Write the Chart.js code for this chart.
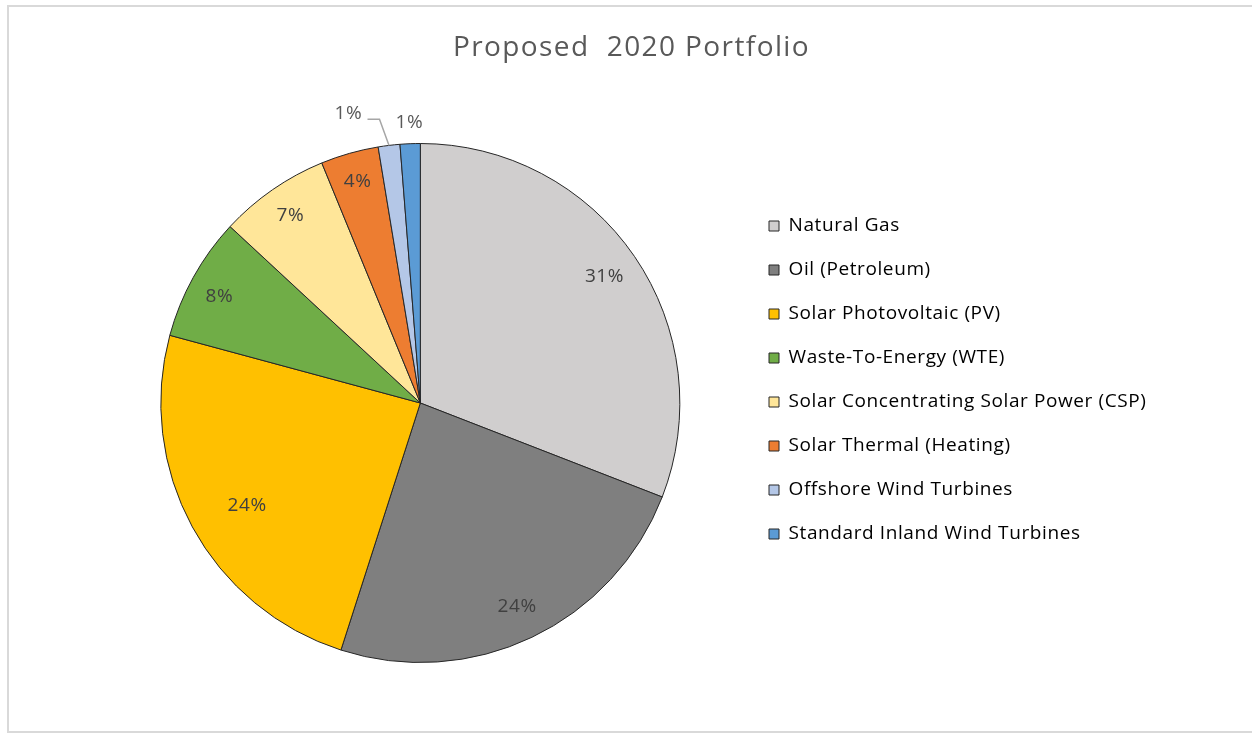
<!DOCTYPE html>
<html>
<head>
<meta charset="utf-8">
<script src="https://cdn.jsdelivr.net/npm/chart.js@4.4.0/dist/chart.umd.min.js"></script>
<style>
  html, body { margin: 0; padding: 0; background: #fff; }
  #wrap { position: relative; width: 1252px; height: 734px; }
  #frame { position: absolute; left: 7px; top: 5px; width: 1250px; height: 728px;
           border-left: 2px solid #d9d9d9; border-top: 2px solid #d9d9d9; border-bottom: 2px solid #d9d9d9; box-sizing: border-box; }
  canvas { position: absolute; left: 0; top: 0; }
</style>
</head>
<body>
<div id="wrap">
  <div id="frame"></div>
  <canvas id="c" width="1252" height="734"></canvas>
</div>
<script>
const titleText = 'Proposed  2020 Portfolio';
const categories = [
  'Natural Gas',
  'Oil (Petroleum)',
  'Solar Photovoltaic (PV)',
  'Waste-To-Energy (WTE)',
  'Solar Concentrating Solar Power (CSP)',
  'Solar Thermal (Heating)',
  'Offshore Wind Turbines',
  'Standard Inland Wind Turbines'
];
const shares = [30.9, 24.05, 24.25, 7.7, 6.9, 3.6, 1.35, 1.25];
const colors = ['#d0cece', '#7f7f7f', '#ffc000', '#70ad47', '#ffe699', '#ed7d31', '#b4c7e7', '#5b9bd5'];

// label placement styles (radius factor, angle shift in degrees, leader line, colour)
const labelStyles = [
  { r: 0.86, da: 0 },
  { r: 0.867, da: 0 },
  { r: 0.775, da: -2 },
  { r: 0.877, da: -1 },
  { r: 0.878, da: 0 },
  { r: 0.885, da: 0 },
  { r: 1.15, da: -7, leader: true, color: '#595959' },
  { r: 1.08, da: 0, color: '#595959' }
];

const FONT = '"Open Sans", Lato, sans-serif';
const LEGEND_FS = 19;
const LEGEND_PAD = 44 - LEGEND_FS;

function withSpacing(box, spacing) {
  if (!box || box._spaced) return;
  const orig = box.draw.bind(box);
  box.draw = function (area) {
    const c = this.ctx;
    const prev = c.letterSpacing;
    c.letterSpacing = spacing;
    orig(area);
    c.letterSpacing = prev || '0px';
  };
  box._spaced = true;
}

const labelPlugin = {
  id: 'sliceLabels',
  afterLayout(chart) {
    // place title and legend blocks like the original sheet
    const t = chart.titleBlock;
    if (t) { t.left = 11; t.right = 1252; withSpacing(t, '1.4px'); }
    const lg = chart.legend;
    if (lg) {
      lg.left = 769 - LEGEND_PAD; lg.right = 1252; lg.width = lg.right - lg.left;
      lg.top = 143; lg.bottom = 617; lg.height = lg.bottom - lg.top;
      withSpacing(lg, '0.6px');
    }
  },
  afterDatasetsDraw(chart) {
    const ctx = chart.ctx;
    const meta = chart.getDatasetMeta(0);
    const total = shares.reduce((a, b) => a + b, 0);
    ctx.save();
    ctx.letterSpacing = '0.6px';
    ctx.font = '19px ' + FONT;
    ctx.textAlign = 'center';
    ctx.textBaseline = 'middle';
    meta.data.forEach((arc, i) => {
      const p = arc.getProps(['x', 'y', 'startAngle', 'endAngle', 'outerRadius'], true);
      const st = labelStyles[i];
      const mid = (p.startAngle + p.endAngle) / 2;
      const a = mid + st.da * Math.PI / 180;
      const rr = p.outerRadius * st.r;
      const lx = p.x + Math.cos(a) * rr;
      const ly = p.y + Math.sin(a) * rr;
      const txt = Math.round(shares[i] / total * 100) + '%';
      if (st.leader) {
        const ex = p.x + Math.cos(mid) * p.outerRadius;
        const ey = p.y + Math.sin(mid) * p.outerRadius;
        ctx.strokeStyle = '#a6a6a6';
        ctx.lineWidth = 1.5;
        ctx.beginPath();
        ctx.moveTo(lx + 19, ly + 6);
        ctx.lineTo(lx + 31, ly + 6);
        ctx.lineTo(ex, ey);
        ctx.stroke();
      }
      ctx.fillStyle = st.color || '#404040';
      ctx.fillText(txt, lx, ly);
    });
    ctx.restore();
  }
};

new Chart(document.getElementById('c'), {
  type: 'pie',
  data: {
    labels: categories,
    datasets: [{
      data: shares,
      backgroundColor: colors,
      borderColor: '#262626',
      borderWidth: 1
    }]
  },
  options: {
    responsive: false,
    animation: false,
    layout: { padding: { left: 99, right: 120, top: 0, bottom: 71 } },
    plugins: {
      title: {
        display: true,
        text: titleText,
        color: '#595959',
        font: { family: FONT, size: 28, weight: 'normal', lineHeight: 1.2 },
        padding: { top: 31, bottom: 78.4 }
      },
      legend: {
        position: 'right',
        align: 'center',
        labels: {
          color: '#595959',
          font: { family: FONT, size: LEGEND_FS },
          boxWidth: 10,
          boxHeight: 10,
          padding: LEGEND_PAD,
          generateLabels(chart) {
            const ds = chart.data.datasets[0];
            return chart.data.labels.map((l, i) => ({
              text: l,
              fillStyle: ds.backgroundColor[i],
              strokeStyle: '#262626',
              lineWidth: 1,
              index: i,
              hidden: false
            }));
          }
        }
      },
      tooltip: { enabled: false }
    }
  },
  plugins: [labelPlugin]
});
</script>
</body>
</html>
